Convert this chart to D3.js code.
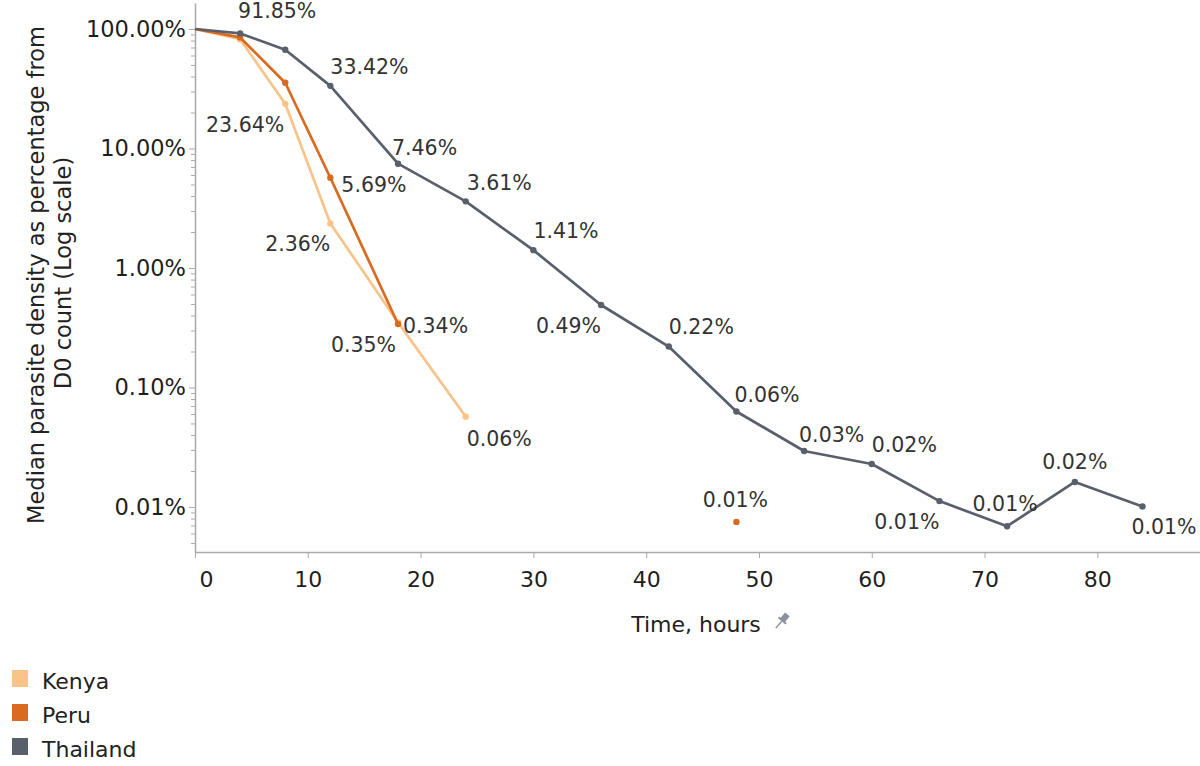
<!DOCTYPE html>
<html lang="en">
<head>
<meta charset="UTF-8">
<script src="https://d3js.org/d3.v7.min.js"></script>
<style>
  body { margin: 0; background: #fff; font-family: "DejaVu Sans", sans-serif; }
  .axis path, .axis line { stroke: #a9a9a9; }
  .axis text { fill: #1e1e1e; font-size: 22px; font-family: "DejaVu Sans", sans-serif; }
  .yax text { font-size: 22.5px; }
  .lbl { font-size: 20.5px; fill: #333; }
  .title { fill: #222; }
</style>
</head>
<body>
<div id="chart"></div>
<script>
// data (percent of D0 count)
const hours    = [0, 4, 8, 12, 18, 24, 30, 36, 42, 48, 54, 60, 66, 72, 78, 84];
const kenya    = [100, 82, 23.64, 2.36, 0.35, 0.057, null, null, null, null, null, null, null, null, null, null];
const peru     = [100, 85, 35.5, 5.69, 0.34, null, null, null, null, 0.0075, null, null, null, null, null, null];
const thailand = [100, 91.85, 67, 33.42, 7.46, 3.61, 1.41, 0.49, 0.22, 0.063, 0.0294, 0.0229, 0.0112, 0.0069, 0.0162, 0.0101];
const countries = ["Kenya", "Peru", "Thailand"];
const xTicks = [0, 10, 20, 30, 40, 50, 60, 70, 80];
const yTicks = [0.01, 0.1, 1, 10, 100];

const colors = { Kenya: "#f9c38a", Peru: "#d96a1f", Thailand: "#59606b" };

// label placement per point: [anchor, dx, dy]
const labelPos = {
  Kenya: { 2: ["end", -1, 28], 3: ["end", 0, 28], 4: ["end", -2, 30], 5: ["start", 1, 29] },
  Peru: { 3: ["start", 11, 14], 4: ["start", 5, 9], 9: ["middle", -1, -15] },
  Thailand: {
    1: ["start", -2, -15], 3: ["start", 0, -12], 4: ["start", -6, -9], 5: ["start", 1, -11],
    6: ["start", 0, -12], 7: ["end", 0, 28], 8: ["start", 0, -13], 9: ["start", -2, -9],
    10: ["start", -5, -9], 11: ["start", 0, -12], 12: ["end", 0, 28], 13: ["middle", -2, -15],
    14: ["middle", 0, -13], 15: ["start", -11, 28]
  }
};

const W = 1200, H = 766;
const svg = d3.select("#chart").append("svg").attr("width", W).attr("height", H);

const x = d3.scaleLinear().domain([0, 89.1]).range([195, 1200]);
const y = d3.scaleLog().domain([0.0042, 165]).range([552, 3]);

const series = {
  Kenya: hours.map((h, i) => ({ h, v: kenya[i], i })),
  Peru: hours.map((h, i) => ({ h, v: peru[i], i })),
  Thailand: hours.map((h, i) => ({ h, v: thailand[i], i }))
};

// y axis with minor log ticks
const minor = [];
for (let e = -3; e <= 2; e++) for (let k = 2; k <= 9; k++) {
  const v = k * Math.pow(10, e);
  if (v > 0.0042 && v < 165) minor.push(v);
}
svg.append("g").attr("class", "axis")
  .attr("transform", "translate(195,0)")
  .call(d3.axisLeft(y).tickValues(minor).tickSize(4).tickFormat(""))
  .call(g => g.select(".domain").remove());
svg.append("g").attr("class", "axis yax")
  .attr("transform", "translate(195,0)")
  .call(d3.axisLeft(y).tickValues(yTicks).tickSize(6).tickPadding(3).tickSizeOuter(0)
    .tickFormat(d => d3.format(".2f")(d) + "%"))
  .call(g => g.select(".domain").attr("stroke-width", 1.5));

// x axis
const xa = svg.append("g").attr("class", "axis")
  .attr("transform", "translate(0,552)")
  .call(d3.axisBottom(x).tickValues(xTicks).tickSize(6).tickPadding(13).tickSizeOuter(0))
  .call(g => g.select(".domain").attr("stroke-width", 1.5));
xa.selectAll(".tick").filter(d => d === 0).select("text").attr("dx", 11);

// lines
const line = d3.line().defined(d => d.v != null).x(d => x(d.h)).y(d => y(d.v));
countries.forEach(c => {
  svg.append("path")
    .datum(series[c])
    .attr("fill", "none")
    .attr("stroke", colors[c])
    .attr("stroke-width", 2.7)
    .attr("stroke-linejoin", "round")
    .attr("d", line);
  svg.selectAll(".pt-" + c)
    .data(series[c].filter(d => d.v != null && d.h > 0))
    .enter().append("circle")
    .attr("cx", d => x(d.h))
    .attr("cy", d => y(d.v))
    .attr("r", 3.2)
    .attr("fill", colors[c]);
});

// value labels
countries.forEach(c => {
  const pts = series[c].filter(d => labelPos[c][d.i]);
  svg.selectAll(".lbl-" + c)
    .data(pts)
    .enter().append("text")
    .attr("class", "lbl")
    .attr("x", d => x(d.h) + labelPos[c][d.i][1])
    .attr("y", d => y(d.v) + labelPos[c][d.i][2])
    .attr("text-anchor", d => labelPos[c][d.i][0])
    .text(d => d3.format(".2f")(d.v) + "%");
});

// axis titles
svg.append("text").attr("class", "title")
  .attr("transform", "translate(44,275) rotate(-90)")
  .attr("text-anchor", "middle")
  .style("font-size", "22.5px")
  .text("Median parasite density as percentage from");
svg.append("text").attr("class", "title")
  .attr("transform", "translate(71,273) rotate(-90)")
  .attr("text-anchor", "middle")
  .style("font-size", "22.5px")
  .text("D0 count (Log scale)");
svg.append("text").attr("class", "title")
  .attr("x", 696).attr("y", 632)
  .attr("text-anchor", "middle")
  .style("font-size", "22px")
  .text("Time, hours");

// pin icon
const pin = svg.append("g").attr("transform", "translate(781,622) rotate(40)");
pin.append("rect").attr("x", -3).attr("y", -10).attr("width", 6).attr("height", 8).attr("fill", "#8c929c");
pin.append("rect").attr("x", -5).attr("y", -3).attr("width", 10).attr("height", 2).attr("fill", "#8c929c");
pin.append("line").attr("x1", 0).attr("y1", -1).attr("x2", 0).attr("y2", 8)
  .attr("stroke", "#8c929c").attr("stroke-width", 1.5);

// legend
const leg = svg.append("g").attr("transform", "translate(12,670)");
countries.forEach((c, i) => {
  leg.append("rect").attr("x", 0).attr("y", i * 34).attr("width", 16).attr("height", 17).attr("fill", colors[c]);
  leg.append("text").attr("x", 30).attr("y", i * 34 + 19)
    .style("font-size", "22px").attr("fill", "#222").text(c);
});
</script>
</body>
</html>
